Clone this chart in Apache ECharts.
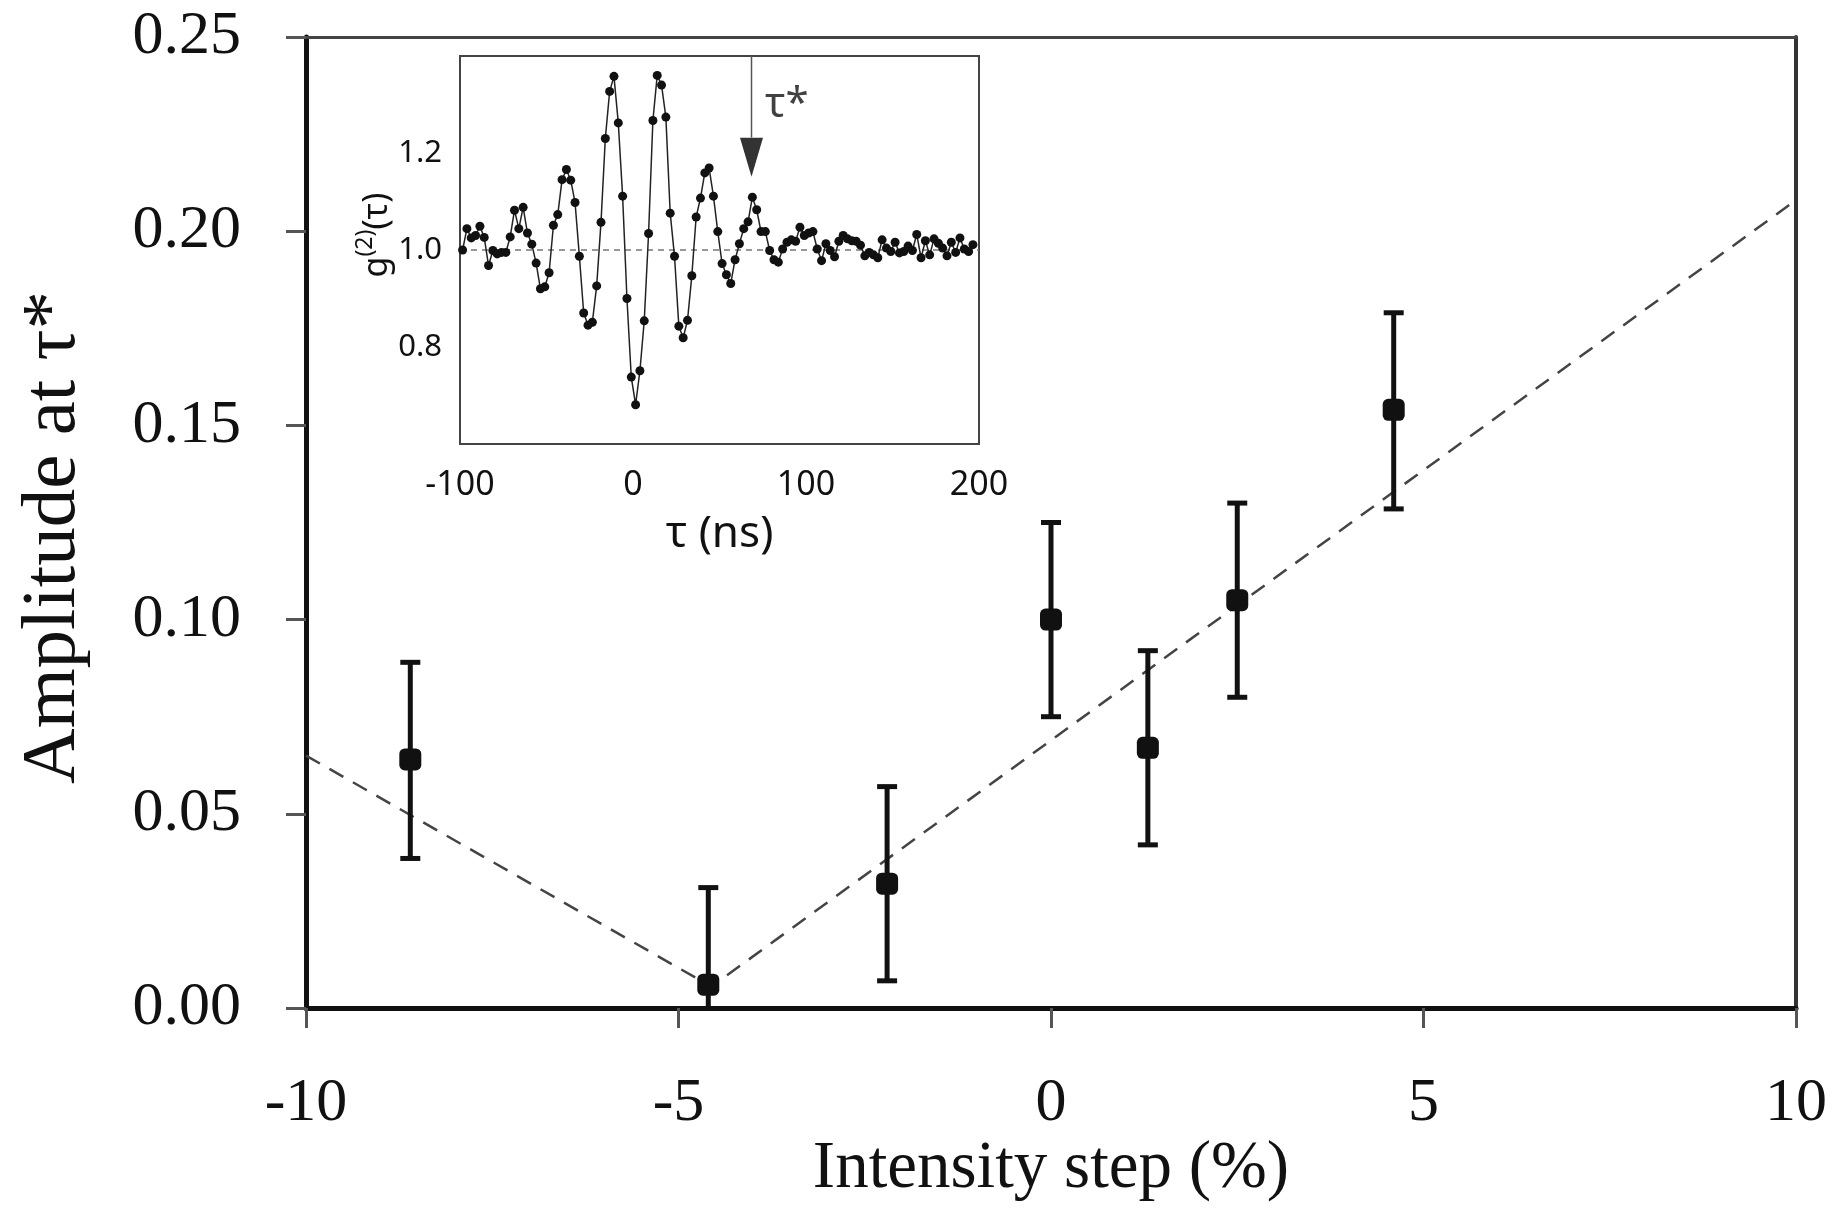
<!DOCTYPE html>
<html><head><meta charset="utf-8">
<script src="https://cdn.jsdelivr.net/npm/echarts@6/dist/echarts.min.js"></script>
<style>html,body{margin:0;padding:0;background:#fff;} #c{width:1832px;height:1221px;}</style>
</head><body><div id="c"></div>
<script>
// ---- main plot data ----
const stepPct   = [-8.6, -4.6, -2.2, 0.0, 1.3, 2.5, 4.6];
const amplitude = [0.064, 0.006, 0.032, 0.100, 0.067, 0.105, 0.154];
const ampLow    = [0.0385, -0.019, 0.007, 0.075, 0.042, 0.080, 0.1285];
const ampHigh   = [0.089, 0.031, 0.057, 0.125, 0.092, 0.130, 0.179];
const fitStep   = [-10, -4.56, 10];
const fitAmp    = [0.065, 0.0055, 0.208];
const mainXTicks = ['-10', '-5', '0', '5', '10'];
const mainYTicks = ['0.00', '0.05', '0.10', '0.15', '0.20', '0.25'];

// ---- inset data: g2(tau) ----
const tauNs = [-98.5, -96, -93.5, -91, -88.5, -86, -83.5, -81, -78.5, -76,
  -73.5, -71, -68.5, -66, -63.5, -61, -58.5, -56, -53.5, -51,
  -48.5, -46, -43.5, -41, -38.5, -36, -33.5, -31, -28.5, -26,
  -23.5, -21, -18.5, -16, -13.5, -11, -8.5, -6, -3.5, -1,
  1.5, 4, 6.5, 9, 11.5, 14, 16.5, 19, 21.5, 24,
  26.5, 29, 31.5, 34, 36.5, 39, 41.5, 44, 46.5, 49,
  51.5, 54, 56.5, 59, 61.5, 64, 66.5, 69, 71.5, 74,
  76.5, 79, 81.5, 84, 86.5, 89, 91.5, 94, 96.5, 99,
  101.5, 104, 106.5, 109, 111.5, 114, 116.5, 119, 121.5, 124,
  126.5, 129, 131.5, 134, 136.5, 139, 141.5, 144, 146.5, 149,
  151.5, 154, 156.5, 159, 161.5, 164, 166.5, 169, 171.5, 174,
  176.5, 179, 181.5, 184, 186.5, 189, 191.5, 194, 196.5];
const g2 = [1.000, 1.044, 1.025, 1.030, 1.049, 1.026, 0.968, 0.999, 0.992, 0.995,
  0.995, 1.027, 1.082, 1.044, 1.088, 1.035, 1.012, 0.973, 0.920, 0.924,
  0.953, 1.051, 1.073, 1.145, 1.166, 1.144, 1.098, 0.987, 0.870, 0.845,
  0.851, 0.926, 1.057, 1.230, 1.327, 1.358, 1.262, 1.111, 0.900, 0.738,
  0.681, 0.751, 0.854, 1.034, 1.267, 1.360, 1.340, 1.274, 1.076, 0.987,
  0.843, 0.819, 0.855, 0.947, 1.068, 1.107, 1.159, 1.169, 1.111, 1.038,
  0.972, 0.949, 0.931, 0.980, 1.013, 1.044, 1.058, 1.109, 1.083, 1.038,
  1.038, 0.999, 0.980, 0.975, 1.002, 1.016, 1.021, 1.018, 1.047, 1.030,
  1.035, 1.038, 1.002, 0.978, 1.013, 0.999, 0.986, 1.018, 1.030, 1.023,
  1.019, 1.018, 1.010, 0.988, 0.995, 0.990, 0.984, 1.021, 1.004, 0.997,
  1.016, 0.994, 0.997, 1.008, 0.999, 1.032, 0.984, 1.019, 0.990, 1.023,
  1.014, 1.004, 0.988, 1.016, 0.995, 1.025, 1.002, 0.997, 1.011];
const g2Baseline = 1.0;
const tauStar = 68.5;
const arrowTop = 1.4, arrowShaftEnd = 1.232, arrowHeadMid = 1.191;
const insetXTicks = ['-100', '0', '100', '200'];
const insetYTicks = ['0.8', '1.0', '1.2'];

const serif = '"Liberation Serif", "Times New Roman", serif';
const sans = '"Noto Sans", "Open Sans", sans-serif';

const chart = echarts.init(document.getElementById('c'));

const option = {
  backgroundColor: '#fff',
  animation: false,
  grid: [
    { left: 306, top: 37, width: 1490, height: 971, outerBoundsMode: 'none', containLabel: false },
    { left: 460, top: 56, width: 519, height: 388, outerBoundsMode: 'none', containLabel: false,
      show: true, backgroundColor: '#fff', borderColor: '#444', borderWidth: 2, z: 3 }
  ],
  xAxis: [
    { // main bottom
      type: 'value', gridIndex: 0, min: -10, max: 10, interval: 5, position: 'bottom',
      axisLine: { onZero: false, lineStyle: { color: '#111', width: 5 } },
      axisTick: { show: true, inside: false, length: 20, lineStyle: { color: '#555', width: 3 } },
      axisLabel: { margin: 65, color: '#111', fontFamily: serif, fontSize: 62,
        formatter: v => mainXTicks[Math.round((v + 10) / 5)] },
      splitLine: { show: false },
      name: 'Intensity step (%)', nameLocation: 'middle', nameGap: 128, nameMoveOverlap: false,
      nameTextStyle: { fontFamily: serif, fontSize: 67, color: '#111' }
    },
    { // inset bottom
      type: 'value', gridIndex: 1, min: -100, max: 200, interval: 100, position: 'bottom',
      axisLine: { onZero: false, lineStyle: { color: '#444', width: 2 } },
      axisTick: { show: true, inside: true, length: 8, lineStyle: { color: '#444', width: 2 } },
      axisLabel: { margin: 24, color: '#111', fontFamily: sans, fontSize: 34,
        formatter: v => insetXTicks[Math.round((v + 100) / 100)] },
      splitLine: { show: false },
      name: 'τ (ns)', nameLocation: 'middle', nameGap: 68,
      nameTextStyle: { fontFamily: sans, fontSize: 44, color: '#111' }
    },
    { // main top border
      type: 'value', gridIndex: 0, min: -10, max: 10, position: 'top',
      axisLine: { onZero: false, lineStyle: { color: '#444', width: 3 } },
      axisTick: { show: false }, axisLabel: { show: false }, splitLine: { show: false }
    },
    { // inset top ticks
      type: 'value', gridIndex: 1, min: -100, max: 200, interval: 100, position: 'top',
      axisLine: { onZero: false, lineStyle: { color: '#444', width: 2 } },
      axisTick: { show: true, inside: true, length: 8, lineStyle: { color: '#444', width: 2 } },
      axisLabel: { show: false }, splitLine: { show: false }
    }
  ],
  yAxis: [
    { // main left
      type: 'value', gridIndex: 0, min: 0, max: 0.25, interval: 0.05, position: 'left',
      axisLine: { onZero: false, lineStyle: { color: '#111', width: 5 } },
      axisTick: { show: true, inside: false, length: 20, lineStyle: { color: '#555', width: 3 } },
      axisLabel: { margin: 65, color: '#111', fontFamily: serif, fontSize: 62,
        formatter: v => mainYTicks[Math.round(v / 0.05)] },
      splitLine: { show: false },
      name: 'Amplitude at τ*', nameLocation: 'middle', nameGap: 214,
      nameTextStyle: { fontFamily: serif, fontSize: 77, color: '#111', padding: [0, 30, 0, 0] }
    },
    { // inset left
      type: 'value', gridIndex: 1, min: 0.6, max: 1.4, interval: 0.2, position: 'left',
      axisLine: { onZero: false, lineStyle: { color: '#444', width: 2 } },
      axisTick: { show: true, inside: true, length: 8, lineStyle: { color: '#444', width: 2 } },
      axisLabel: { margin: 18, color: '#111', fontFamily: sans, fontSize: 31,
        showMinLabel: false, showMaxLabel: false,
        formatter: v => { const i = Math.round((v - 0.8) / 0.2); return insetYTicks[i] || ''; } },
      splitLine: { show: false },
      name: '{g|g}{s|(2)}{g|(τ)}', nameLocation: 'middle', nameGap: 62,
      nameTextStyle: { color: '#111', fontFamily: sans, padding: [0, 0, 0, 30],
        rich: {
          g: { fontFamily: sans, fontSize: 34, color: '#111', lineHeight: 40, verticalAlign: 'bottom' },
          s: { fontFamily: sans, fontSize: 23, color: '#111', lineHeight: 40, verticalAlign: 'top' }
        } }
    },
    { // main right border
      type: 'value', gridIndex: 0, min: 0, max: 0.25, position: 'right',
      axisLine: { onZero: false, lineStyle: { color: '#333', width: 4 } },
      axisTick: { show: false }, axisLabel: { show: false }, splitLine: { show: false }
    },
    { // inset right ticks
      type: 'value', gridIndex: 1, min: 0.6, max: 1.4, interval: 0.2, position: 'right',
      axisLine: { onZero: false, lineStyle: { color: '#444', width: 2 } },
      axisTick: { show: true, inside: true, length: 8, lineStyle: { color: '#444', width: 2 } },
      axisLabel: { show: false }, splitLine: { show: false }
    }
  ],
  series: [
    { // fit V
      type: 'line', xAxisIndex: 0, yAxisIndex: 0, z: 2,
      data: fitStep.map((x, i) => [x, fitAmp[i]]),
      symbol: 'none', silent: true,
      lineStyle: { color: '#444', width: 2.5, type: [16, 11] }
    },
    { // error bars
      type: 'custom', xAxisIndex: 0, yAxisIndex: 0, z: 4, clip: true,
      data: stepPct.map((x, i) => [x, ampLow[i], ampHigh[i]]),
      encode: { x: 0, y: [1, 2] },
      renderItem: function (params, api) {
        const x = api.value(0);
        const lo = api.coord([x, api.value(1)]);
        const hi = api.coord([x, api.value(2)]);
        const hw = 10;
        const style = { stroke: '#111', lineWidth: 5 };
        return { type: 'group', children: [
          { type: 'line', shape: { x1: lo[0], y1: lo[1], x2: hi[0], y2: hi[1] }, style: style },
          { type: 'line', shape: { x1: hi[0] - hw, y1: hi[1], x2: hi[0] + hw, y2: hi[1] }, style: style },
          { type: 'line', shape: { x1: lo[0] - hw, y1: lo[1], x2: lo[0] + hw, y2: lo[1] }, style: style }
        ] };
      }
    },
    { // points
      type: 'scatter', xAxisIndex: 0, yAxisIndex: 0, z: 5,
      data: stepPct.map((x, i) => [x, amplitude[i]]),
      symbol: 'roundRect', symbolSize: 22,
      itemStyle: { color: '#111', opacity: 1 }
    },
    { // inset g2 curve
      type: 'line', xAxisIndex: 1, yAxisIndex: 1, z: 6,
      data: tauNs.map((t, i) => [t, g2[i]]),
      symbol: 'circle', symbolSize: 9, showSymbol: true,
      lineStyle: { color: '#222', width: 1.5 },
      itemStyle: { color: '#111', borderWidth: 0 },
      markLine: {
        silent: true, symbol: ['none', 'none'], label: { show: false }, z: 5,
        lineStyle: { color: '#777', width: 1.5, type: [6, 5] },
        data: [{ yAxis: g2Baseline }]
      }
    },
    { // arrow shaft
      type: 'line', xAxisIndex: 1, yAxisIndex: 1, z: 6,
      data: [[tauStar, arrowTop], [tauStar, arrowShaftEnd]],
      symbol: 'none', silent: true,
      lineStyle: { color: '#555', width: 1.5 }
    },
    { // arrow head + label
      type: 'scatter', xAxisIndex: 1, yAxisIndex: 1, z: 7,
      data: [[tauStar, arrowHeadMid]],
      symbol: 'path://M0,0 L2,0 L1,3.4 Z', symbolSize: [23, 39],
      itemStyle: { color: '#000' },
      label: { show: true, position: 'right', distance: 2, offset: [0, -52],
        formatter: 'τ*', fontFamily: sans, fontSize: 42, color: '#111' }
    }
  ]
};
chart.setOption(option);
</script>
</body></html>
